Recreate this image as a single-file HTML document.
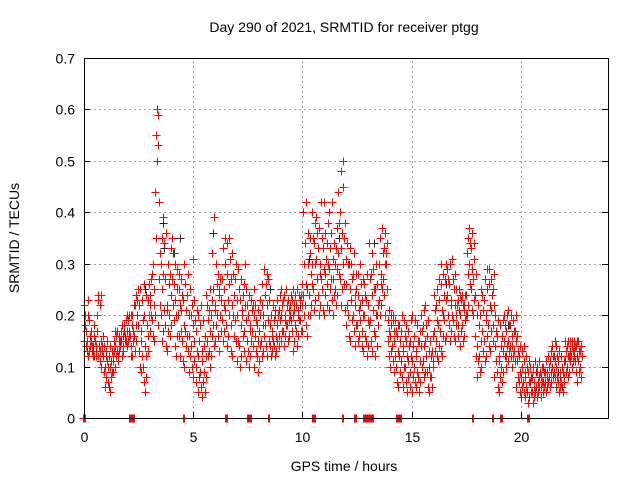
<!DOCTYPE html>
<html><head><meta charset="utf-8"><style>
body{margin:0;background:#fff;}
svg{display:block;font-family:"Liberation Sans",sans-serif;}
</style></head><body>
<svg id="chart" width="640" height="480">
<text x="344" y="32" font-size="14" text-anchor="middle">Day 290 of 2021, SRMTID for receiver ptgg</text>
<g id="grid"></g>
<g id="ticks"></g>
<g id="marks"></g>
<rect x="84.5" y="58.5" width="524" height="360" fill="none" stroke="#000" stroke-width="1"/>
<text x="344" y="471" font-size="14" text-anchor="middle">GPS time / hours</text>
<text x="19" y="238" font-size="14" text-anchor="middle" transform="rotate(-90 19 238)">SRMTID / TECUs</text>
</svg>
<script>
const xTicks = [0,5,10,15,20];
const yTicks = [0,0.1,0.2,0.3,0.4,0.5,0.6,0.7];
const yTickLabels = ["0","0.1","0.2","0.3","0.4","0.5","0.6","0.7"];
const hours = [0.0,0.1,0.2,0.3,0.4,0.5,0.6,0.7,0.8,0.9,1.0,1.1,1.2,1.3,1.4,1.5,1.6,1.7,1.8,1.9,2.0,2.1,2.2,2.3,2.4,2.5,2.6,2.7,2.8,2.9,3.0,3.1,3.2,3.3,3.4,3.5,3.6,3.7,3.8,3.9,4.0,4.1,4.2,4.3,4.4,4.5,4.6,4.7,4.8,4.9,5.0,5.1,5.2,5.3,5.4,5.5,5.6,5.7,5.8,5.9,6.0,6.1,6.2,6.3,6.4,6.5,6.6,6.7,6.8,6.9,7.0,7.1,7.2,7.3,7.4,7.5,7.6,7.7,7.8,7.9,8.0,8.1,8.2,8.3,8.4,8.5,8.6,8.7,8.8,8.9,9.0,9.1,9.2,9.3,9.4,9.5,9.6,9.7,9.8,9.9,10.0,10.1,10.2,10.3,10.4,10.5,10.6,10.7,10.8,10.9,11.0,11.1,11.2,11.3,11.4,11.5,11.6,11.7,11.8,11.9,12.0,12.1,12.2,12.3,12.4,12.5,12.6,12.7,12.8,12.9,13.0,13.1,13.2,13.3,13.4,13.5,13.6,13.7,13.8,13.9,14.0,14.1,14.2,14.3,14.4,14.5,14.6,14.7,14.8,14.9,15.0,15.1,15.2,15.3,15.4,15.5,15.6,15.7,15.8,15.9,16.0,16.1,16.2,16.3,16.4,16.5,16.6,16.7,16.8,16.9,17.0,17.1,17.2,17.3,17.4,17.5,17.6,17.7,17.8,17.9,18.0,18.1,18.2,18.3,18.4,18.5,18.6,18.7,18.8,18.9,19.0,19.1,19.2,19.3,19.4,19.5,19.6,19.7,19.8,19.9,20.0,20.1,20.2,20.3,20.4,20.5,20.6,20.7,20.8,20.9,21.0,21.1,21.2,21.3,21.4,21.5,21.6,21.7,21.8,21.9,22.0,22.1,22.2,22.3,22.4,22.5,22.6,22.7];
const values = [
[0.15,0.18,0.22,0.14,0.2],[0.13,0.17,0.2,0.15,0.23],[0.12,0.14,0.19,0.16,0.13],[0.13,0.15,0.12,0.17,0.14],[0.14,0.16,0.13,0.18,0.12],
[0.12,0.15,0.17,0.14,0.13],[0.2,0.23,0.24,0.14,0.12],[0.11,0.13,0.15,0.22,0.24],[0.1,0.12,0.14,0.16,0.13],[0.06,0.09,0.12,0.14,0.1],
[0.08,0.11,0.13,0.1,0.15],[0.06,0.07,0.1,0.12,0.14],[0.05,0.09,0.11,0.13,0.08],[0.09,0.11,0.13,0.12,0.15],[0.1,0.12,0.14,0.16,0.17],
[0.11,0.13,0.15,0.17,0.12],[0.13,0.14,0.16,0.17,0.15],[0.12,0.15,0.16,0.18,0.14],[0.13,0.15,0.17,0.16,0.18],[0.14,0.15,0.17,0.19,0.2],
[0.15,0.17,0.19,0.2,0.16],[0.12,0.16,0.18,0.2,0.14],[0.12,0.15,0.2,0.22,0.17],[0.13,0.16,0.18,0.22,0.24],[0.15,0.18,0.2,0.25,0.23],
[0.1,0.13,0.17,0.22,0.25],[0.09,0.12,0.15,0.19,0.23],[0.07,0.1,0.14,0.2,0.26],[0.05,0.08,0.12,0.18,0.24],[0.13,0.16,0.2,0.23,0.26],
[0.17,0.2,0.24,0.27,0.22],[0.16,0.19,0.22,0.28,0.3],[0.15,0.2,0.25,0.35,0.44],[0.5,0.55,0.59,0.6,0.53],[0.18,0.22,0.27,0.32,0.42],
[0.15,0.2,0.25,0.3,0.35],[0.17,0.21,0.28,0.34,0.39],[0.14,0.18,0.22,0.27,0.36],[0.13,0.17,0.21,0.26,0.3],[0.16,0.2,0.24,0.28,0.33],
[0.18,0.22,0.27,0.32,0.35],[0.14,0.19,0.23,0.26,0.3],[0.12,0.16,0.2,0.25,0.29],[0.16,0.2,0.22,0.25,0.28],[0.12,0.17,0.21,0.24,0.27],
[0.11,0.15,0.18,0.23,0.3],[0.1,0.14,0.17,0.21,0.26],[0.13,0.16,0.2,0.24,0.28],[0.09,0.12,0.16,0.2,0.25],[0.1,0.14,0.18,0.22,0.31],
[0.08,0.11,0.15,0.19,0.23],[0.07,0.1,0.13,0.17,0.21],[0.05,0.08,0.12,0.15,0.2],[0.06,0.09,0.13,0.18,0.22],[0.04,0.07,0.11,0.14,0.19],
[0.05,0.09,0.12,0.16,0.24],[0.08,0.12,0.15,0.19,0.22],[0.1,0.13,0.17,0.21,0.25],[0.12,0.16,0.2,0.23,0.32],[0.14,0.18,0.22,0.25,0.39],
[0.15,0.18,0.21,0.26,0.3],[0.16,0.2,0.24,0.28,0.25],[0.13,0.17,0.2,0.23,0.27],[0.15,0.19,0.22,0.27,0.33],[0.17,0.21,0.25,0.3,0.35],
[0.14,0.18,0.23,0.28,0.34],[0.16,0.2,0.26,0.31,0.35],[0.13,0.18,0.22,0.27,0.32],[0.12,0.16,0.2,0.24,0.28],[0.15,0.19,0.23,0.27,0.3],
[0.11,0.15,0.2,0.25,0.29],[0.1,0.14,0.18,0.23,0.27],[0.12,0.16,0.2,0.24,0.21],[0.13,0.17,0.22,0.26,0.3],[0.11,0.15,0.19,0.22,0.25],
[0.1,0.13,0.17,0.2,0.24],[0.12,0.15,0.18,0.21,0.23],[0.14,0.17,0.2,0.22,0.25],[0.1,0.13,0.16,0.19,0.22],[0.09,0.12,0.15,0.18,0.21],
[0.11,0.14,0.17,0.2,0.23],[0.12,0.15,0.18,0.22,0.26],[0.13,0.16,0.2,0.24,0.29],[0.14,0.18,0.22,0.26,0.28],[0.12,0.15,0.19,0.23,0.27],
[0.12,0.14,0.16,0.18,0.2],[0.13,0.15,0.17,0.19,0.22],[0.12,0.14,0.16,0.2,0.21],[0.13,0.15,0.18,0.2,0.23],[0.14,0.16,0.19,0.21,0.24],
[0.15,0.17,0.2,0.22,0.25],[0.14,0.17,0.19,0.23,0.24],[0.16,0.18,0.2,0.22,0.25],[0.15,0.18,0.21,0.23,0.19],[0.16,0.19,0.22,0.24,0.2],
[0.13,0.17,0.2,0.23,0.25],[0.15,0.18,0.21,0.24,0.22],[0.14,0.17,0.2,0.22,0.25],[0.16,0.19,0.21,0.23,0.24],[0.17,0.19,0.22,0.24,0.26],
[0.17,0.2,0.24,0.3,0.4],[0.18,0.22,0.26,0.34,0.42],[0.16,0.2,0.25,0.3,0.36],[0.2,0.24,0.28,0.32,0.35],[0.22,0.26,0.3,0.35,0.4],
[0.21,0.25,0.3,0.34,0.38],[0.23,0.27,0.31,0.36,0.39],[0.2,0.24,0.28,0.33,0.37],[0.22,0.27,0.3,0.35,0.42],[0.21,0.25,0.29,0.33,0.42],
[0.2,0.24,0.28,0.31,0.36],[0.22,0.26,0.3,0.34,0.38],[0.21,0.25,0.29,0.33,0.4],[0.23,0.27,0.31,0.36,0.42],[0.2,0.24,0.27,0.3,0.34],
[0.22,0.25,0.29,0.33,0.37],[0.24,0.28,0.32,0.38,0.44],[0.22,0.27,0.33,0.4,0.48],[0.25,0.3,0.36,0.45,0.5],[0.21,0.26,0.31,0.35,0.38],
[0.18,0.22,0.26,0.3,0.34],[0.16,0.2,0.25,0.3,0.33],[0.15,0.19,0.23,0.27,0.3],[0.17,0.2,0.24,0.28,0.32],[0.14,0.18,0.22,0.25,0.28],
[0.15,0.18,0.21,0.24,0.28],[0.16,0.19,0.22,0.26,0.3],[0.14,0.17,0.2,0.23,0.27],[0.13,0.16,0.2,0.24,0.26],[0.12,0.15,0.19,0.23,0.28],
[0.14,0.18,0.22,0.27,0.34],[0.15,0.19,0.24,0.28,0.32],[0.13,0.17,0.21,0.25,0.29],[0.12,0.16,0.2,0.25,0.3],[0.14,0.18,0.2,0.22,0.26],
[0.2,0.23,0.26,0.3,0.35],[0.22,0.25,0.28,0.32,0.37],[0.24,0.27,0.3,0.33,0.36],[0.2,0.25,0.3,0.34,0.32],[0.12,0.15,0.17,0.19,0.21],
[0.1,0.13,0.16,0.18,0.2],[0.11,0.14,0.17,0.19,0.2],[0.09,0.12,0.15,0.17,0.19],[0.07,0.1,0.13,0.16,0.18],[0.06,0.09,0.12,0.15,0.18],
[0.08,0.11,0.14,0.17,0.2],[0.06,0.1,0.13,0.16,0.19],[0.07,0.1,0.12,0.15,0.18],[0.05,0.08,0.11,0.14,0.17],[0.06,0.09,0.12,0.15,0.19],
[0.05,0.08,0.11,0.14,0.2],[0.07,0.1,0.13,0.16,0.19],[0.06,0.09,0.12,0.15,0.18],[0.05,0.08,0.11,0.15,0.17],[0.07,0.1,0.14,0.17,0.2],
[0.08,0.11,0.14,0.18,0.21],[0.09,0.12,0.15,0.18,0.22],[0.06,0.09,0.13,0.16,0.19],[0.05,0.08,0.1,0.12,0.15],[0.06,0.08,0.11,0.13,0.16],
[0.1,0.13,0.17,0.21,0.24],[0.12,0.15,0.19,0.22,0.25],[0.11,0.14,0.18,0.23,0.27],[0.13,0.17,0.21,0.26,0.3],[0.12,0.16,0.2,0.24,0.28],
[0.15,0.19,0.23,0.27,0.3],[0.16,0.2,0.24,0.27,0.29],[0.15,0.18,0.22,0.26,0.3],[0.17,0.2,0.23,0.27,0.31],[0.16,0.19,0.22,0.25,0.28],
[0.15,0.18,0.2,0.22,0.25],[0.16,0.18,0.21,0.23,0.25],[0.14,0.17,0.2,0.23,0.24],[0.15,0.18,0.21,0.24,0.22],[0.16,0.19,0.22,0.2,0.24],
[0.2,0.24,0.28,0.32,0.35],[0.22,0.26,0.3,0.34,0.37],[0.21,0.25,0.29,0.33,0.36],[0.2,0.23,0.27,0.31,0.34],[0.12,0.16,0.2,0.24,0.28],
[0.08,0.11,0.14,0.18,0.22],[0.09,0.12,0.15,0.2,0.25],[0.1,0.13,0.17,0.21,0.24],[0.11,0.15,0.19,0.23,0.27],[0.12,0.16,0.2,0.25,0.29],
[0.14,0.18,0.22,0.26,0.29],[0.13,0.17,0.21,0.24,0.27],[0.15,0.18,0.22,0.25,0.28],[0.08,0.11,0.14,0.17,0.2],[0.06,0.09,0.12,0.16,0.19],
[0.05,0.08,0.11,0.14,0.18],[0.07,0.1,0.13,0.16,0.19],[0.09,0.12,0.15,0.18,0.2],[0.1,0.12,0.14,0.17,0.2],[0.11,0.13,0.15,0.18,0.21],
[0.12,0.14,0.16,0.18,0.2],[0.1,0.12,0.14,0.17,0.19],[0.11,0.13,0.15,0.17,0.2],[0.06,0.08,0.11,0.13,0.16],[0.05,0.07,0.09,0.12,0.14],
[0.04,0.06,0.08,0.1,0.13],[0.05,0.07,0.09,0.11,0.14],[0.04,0.06,0.08,0.1,0.12],[0.03,0.05,0.07,0.09,0.11],[0.04,0.05,0.07,0.08,0.1],
[0.03,0.05,0.06,0.08,0.1],[0.04,0.05,0.07,0.09,0.11],[0.04,0.06,0.07,0.09,0.1],[0.05,0.06,0.08,0.09,0.11],[0.04,0.06,0.07,0.08,0.1],
[0.05,0.06,0.07,0.09,0.1],[0.05,0.07,0.08,0.09,0.11],[0.06,0.07,0.09,0.1,0.12],[0.06,0.08,0.09,0.11,0.13],[0.07,0.08,0.1,0.12,0.14],
[0.08,0.09,0.11,0.12,0.15],[0.06,0.08,0.1,0.12,0.14],[0.05,0.07,0.09,0.11,0.13],[0.06,0.07,0.08,0.1,0.12],[0.05,0.06,0.08,0.09,0.11],
[0.07,0.09,0.11,0.13,0.15],[0.08,0.1,0.12,0.14,0.15],[0.09,0.11,0.12,0.13,0.15],[0.1,0.12,0.13,0.14,0.15],[0.11,0.12,0.13,0.14,0.15],
[0.09,0.11,0.12,0.14,0.15],[0.07,0.09,0.11,0.13,0.15],[0.08,0.1,0.12,0.13,0.14]
];
const zeroHours = [0.0,2.1,2.15,2.2,2.25,4.55,6.5,7.5,7.55,7.6,8.45,10.45,10.55,11.85,12.4,12.45,12.8,12.9,13.0,13.1,13.2,14.3,14.4,14.5,17.8,18.7,19.1,20.3,20.35];
const blackHours = [2.8,3.6,3.65,4.1,4.4,5.9,8.5,9.9,10.3,11.7,13.3,16.6,18.4,19.4,21.7];
const blackValues = [0.25,0.38,0.33,0.32,0.35,0.36,0.25,0.22,0.31,0.35,0.34,0.26,0.2,0.18,0.09];

const X0=84, X1=608, Y0=418, Y1=58, XMAX=24, YMAX=0.7;
function xs(h){return X0+(X1-X0)*h/XMAX;}
function ys(v){return Y0-(Y0-Y1)*v/YMAX;}
const jitterA=[0.0,0.06,0.02,0.08,0.04];
const jitterB=[0.05,0.01,0.09,0.03,0.07];
const NS="http://www.w3.org/2000/svg";
const grid=document.getElementById('grid'), ticks=document.getElementById('ticks'), marks=document.getElementById('marks');
yTicks.forEach((v,i)=>{
  const y=Math.round(ys(v))+0.5;
  if(v>0&&v<YMAX){
    const g=document.createElementNS(NS,'line');
    g.setAttribute('x1',X0);g.setAttribute('x2',X1);g.setAttribute('y1',y);g.setAttribute('y2',y);
    g.setAttribute('stroke','#a0a0a0');g.setAttribute('stroke-dasharray','2,3');
    
    
    grid.appendChild(g);
  }
  const t=document.createElementNS(NS,'line');
  t.setAttribute('x1',X0);t.setAttribute('x2',X0+6);t.setAttribute('y1',y);t.setAttribute('y2',y);t.setAttribute('stroke','#000');
  
  
  ticks.appendChild(t);
  const t2=document.createElementNS(NS,'line');
  t2.setAttribute('x1',X1);t2.setAttribute('x2',X1-6);t2.setAttribute('y1',y);t2.setAttribute('y2',y);t2.setAttribute('stroke','#000');
  
  
  ticks.appendChild(t2);
  const l=document.createElementNS(NS,'text');
  l.setAttribute('x',X0-9);l.setAttribute('y',y+5);l.setAttribute('text-anchor','end');l.setAttribute('font-size','14');
  l.textContent=yTickLabels[i];
  
  
  ticks.appendChild(l);
});
xTicks.forEach(h=>{
  const x=Math.round(xs(h))+0.5;
  if(h>0){
    const g=document.createElementNS(NS,'line');
    g.setAttribute('x1',x);g.setAttribute('x2',x);g.setAttribute('y1',Y0);g.setAttribute('y2',Y1);
    g.setAttribute('stroke','#a0a0a0');g.setAttribute('stroke-dasharray','2,3');
    
    
    grid.appendChild(g);
  }
  const t=document.createElementNS(NS,'line');
  t.setAttribute('x1',x);t.setAttribute('x2',x);t.setAttribute('y1',Y0);t.setAttribute('y2',Y0-6);t.setAttribute('stroke','#000');
  
  
  ticks.appendChild(t);
  const l=document.createElementNS(NS,'text');
  l.setAttribute('x',x);l.setAttribute('y',Y0+24);l.setAttribute('text-anchor','middle');l.setAttribute('font-size','14');
  l.textContent=String(h);
  
  
  ticks.appendChild(l);
});
function cross(h,v,color,name){
  const x=Math.round(xs(h))+0.5, y=Math.round(ys(v))+0.5;
  const p=document.createElementNS(NS,'path');
  p.setAttribute('d','M'+(x-4)+' '+y+'h8M'+x+' '+(y-4)+'v8');
  p.setAttribute('stroke',color);p.setAttribute('stroke-width','1');
  
  
  marks.appendChild(p);
}
blackHours.forEach((h,i)=>cross(h,blackValues[i],'#222','black-point'));
hours.forEach((h,i)=>{
  const jit=(i%2===0)?jitterA:jitterB;
  values[i].forEach((v,j)=>cross(h+jit[j],v,'#ff0000','srmtid-point'));
});
zeroHours.forEach(h=>{
  [-0.03,0,0.03].forEach(d=>cross(h+d,0,'#ff0000','zero-point'));
});
</script>
</body></html>
